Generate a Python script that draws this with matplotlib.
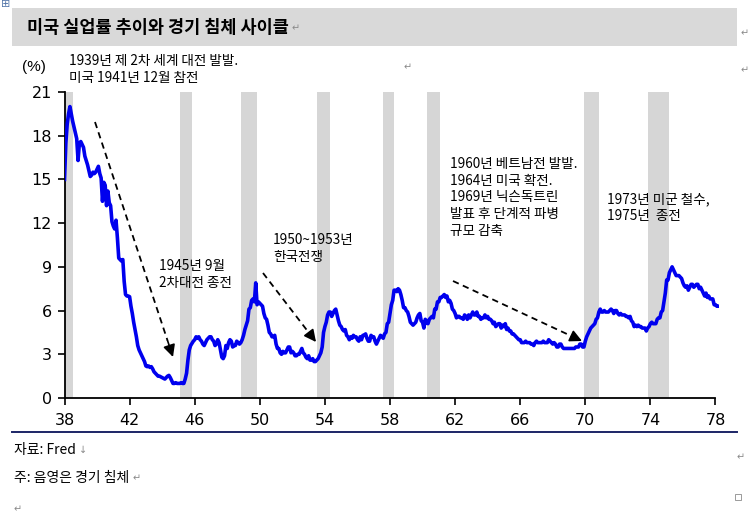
import matplotlib
matplotlib.use("Agg")
import matplotlib.pyplot as plt
from matplotlib.patches import Rectangle
from matplotlib.lines import Line2D
import numpy as np

plt.rcParams['font.family'] = ['Noto Sans CJK KR', 'DejaVu Sans']

# ---------------- data ----------------
start_year = 38          # Jan 1938, monthly data
u_1938_1947 = [
    15.0, 17.5, 18.8, 19.5, 20.0, 19.5, 19.0, 18.6, 18.2, 17.8, 16.3, 17.5,
    17.6, 17.4, 17.2, 16.6, 16.3, 16.0, 15.6, 15.2, 15.3, 15.5, 15.4, 15.5,
    15.7, 15.9, 15.4, 15.1, 13.5, 14.8, 14.6, 13.2, 14.2, 13.4, 13.2, 12.1,
    11.8, 11.6, 12.2, 11.0, 9.6, 9.5, 9.4, 9.5, 8.0, 7.1, 7.0, 7.0,
    6.95, 6.3, 5.8, 5.2, 4.7, 4.2, 3.6, 3.3, 3.1, 2.9, 2.7, 2.5,
    2.2, 2.15, 2.2, 2.1, 2.15, 2.0, 1.8, 1.7, 1.6, 1.5, 1.5, 1.45,
    1.4, 1.35, 1.3, 1.4, 1.5, 1.55, 1.4, 1.2, 1.0, 1.0, 1.05, 1.0,
    1.0, 1.0, 1.05, 1.0, 1.0, 1.3, 1.7, 2.6, 3.3, 3.6, 3.75, 3.9,
    4.0, 4.2, 4.1, 4.2, 4.0, 3.9, 3.7, 3.6, 3.8, 4.0, 4.1, 4.2,
    4.2, 4.0, 3.9, 3.6, 3.7, 4.0, 3.8, 3.3, 2.8, 2.7, 2.9, 3.6,
]
u_1948_1957 = [
    3.4, 3.8, 4.0, 3.9, 3.5, 3.6, 3.6, 3.9, 3.8, 3.7, 3.8, 4.0,
    4.3, 4.7, 5.0, 5.3, 6.1, 6.2, 6.7, 6.8, 6.6, 7.9, 6.4, 6.6,
    6.5, 6.4, 6.3, 5.8, 5.5, 5.4, 5.0, 4.5, 4.4, 4.2, 4.2, 4.3,
    3.7, 3.4, 3.4, 3.1, 3.0, 3.2, 3.1, 3.1, 3.3, 3.5, 3.5, 3.1,
    3.2, 3.1, 2.9, 2.9, 3.0, 3.0, 3.2, 3.4, 3.1, 3.0, 2.8, 2.7,
    2.9, 2.6, 2.6, 2.7, 2.5, 2.5, 2.6, 2.7, 2.9, 3.1, 3.5, 4.5,
    4.9, 5.2, 5.7, 5.9, 5.9, 5.6, 5.8, 6.0, 6.1, 5.7, 5.3, 5.0,
    4.9, 4.7, 4.6, 4.7, 4.3, 4.2, 4.0, 4.2, 4.1, 4.3, 4.2, 4.2,
    4.0, 3.9, 4.2, 4.0, 4.3, 4.3, 4.4, 4.1, 3.9, 3.9, 4.3, 4.2,
    4.2, 3.9, 3.7, 3.9, 4.1, 4.3, 4.2, 4.1, 4.4, 4.5, 5.1, 5.2,
]
u_1958_1967 = [
    5.8, 6.4, 6.7, 7.4, 7.4, 7.3, 7.5, 7.4, 7.1, 6.7, 6.2, 6.2,
    6.0, 5.9, 5.6, 5.2, 5.1, 5.0, 5.1, 5.2, 5.5, 5.7, 5.8, 5.3,
    5.2, 4.8, 5.4, 5.2, 5.1, 5.4, 5.5, 5.6, 5.5, 6.1, 6.1, 6.6,
    6.6, 6.9, 6.9, 7.0, 7.1, 6.9, 7.0, 6.6, 6.7, 6.5, 6.1, 6.0,
    5.8, 5.5, 5.6, 5.6, 5.5, 5.5, 5.4, 5.7, 5.6, 5.4, 5.7, 5.5,
    5.7, 5.9, 5.7, 5.7, 5.9, 5.6, 5.6, 5.4, 5.5, 5.5, 5.7, 5.5,
    5.6, 5.4, 5.4, 5.3, 5.1, 5.2, 4.9, 5.0, 5.1, 5.1, 4.8, 5.0,
    4.9, 5.1, 4.7, 4.8, 4.6, 4.6, 4.4, 4.4, 4.3, 4.2, 4.1, 4.0,
    4.0, 3.8, 3.8, 3.8, 3.9, 3.8, 3.8, 3.8, 3.7, 3.7, 3.6, 3.8,
    3.9, 3.8, 3.8, 3.8, 3.8, 3.9, 3.8, 3.8, 3.8, 4.0, 3.9, 3.8,
]
u_1968_1978 = [
    3.7, 3.8, 3.7, 3.5, 3.5, 3.7, 3.7, 3.5, 3.4, 3.4, 3.4, 3.4,
    3.4, 3.4, 3.4, 3.4, 3.4, 3.5, 3.5, 3.5, 3.7, 3.7, 3.5, 3.5,
    3.9, 4.2, 4.4, 4.6, 4.8, 4.9, 5.0, 5.1, 5.4, 5.5, 5.9, 6.1,
    5.9, 5.9, 6.0, 5.9, 5.9, 5.9, 6.0, 6.1, 6.0, 5.8, 6.0, 6.0,
    5.8, 5.7, 5.8, 5.7, 5.7, 5.7, 5.6, 5.6, 5.5, 5.6, 5.3, 5.2,
    4.9, 5.0, 4.9, 5.0, 4.9, 4.9, 4.8, 4.8, 4.8, 4.6, 4.8, 4.9,
    5.1, 5.2, 5.1, 5.1, 5.1, 5.4, 5.5, 5.5, 5.9, 6.0, 6.6, 7.2,
    8.1, 8.1, 8.6, 8.8, 9.0, 8.8, 8.6, 8.4, 8.4, 8.4, 8.3, 8.2,
    7.9, 7.7, 7.6, 7.7, 7.4, 7.6, 7.8, 7.8, 7.6, 7.7, 7.8, 7.8,
    7.5, 7.6, 7.4, 7.2, 7.0, 7.2, 6.9, 7.0, 6.8, 6.8, 6.8, 6.4,
    6.4, 6.3, 6.3,
]

# NBER recessions (two-digit year, fractional)
rec_start = [37.33, 45.08, 48.83, 53.50, 57.58, 60.25, 69.92, 73.83]
rec_end   = [38.50, 45.83, 49.83, 54.33, 58.25, 61.08, 70.83, 75.17]

x_ticks = [38, 42, 46, 50, 54, 58, 62, 66, 70, 74, 78]
x_tick_labels = [str(t) for t in x_ticks]
y_ticks = [0, 3, 6, 9, 12, 15, 18, 21]

title = "미국 실업률 추이와 경기 침체 사이클"
source = "자료: Fred"
note = "주: 음영은 경기 침체"
unit = "(%)"

ann_ww2_start = "1939년 제 2차 세계 대전 발발.\n미국 1941년 12월 참전"
ann_ww2_end = "1945년 9월\n2차대전 종전"
ann_korea = "1950~1953년\n한국전쟁"
ann_vietnam = "1960년 베트남전 발발.\n1964년 미국 확전.\n1969년 닉슨독트린\n발표 후 단계적 파병\n규모 감축"
ann_vietnam_end = "1973년 미군 철수,\n1975년  종전"

# ---------------- figure ----------------
W, H = 755, 517
fig = plt.figure(figsize=(W / 100, H / 100), dpi=100)
fig.patch.set_facecolor("white")

def fx(px):
    return px / W

def fy(py):
    return 1 - py / H

# title bar
fig.patches.append(Rectangle((fx(12), fy(46)), fx(737) - fx(12), fy(8) - fy(46),
                             transform=fig.transFigure, facecolor="#d9d9d9",
                             edgecolor="none", zorder=-5))
title_txt = fig.text(fx(27), fy(28), title, fontsize=12.6, fontweight="black",
                     ha="left", va="center", color="black")

# axes
x0, x1 = 38.0, 78.2
ax_left = 64.5
px_per_year = 16.275
ax_width = (x1 - x0) * px_per_year
ax = fig.add_axes([fx(ax_left), fy(398), ax_width / W, (398 - 92) / H])
ax.patch.set_alpha(0)

values = u_1938_1947 + u_1948_1957 + u_1958_1967 + u_1968_1978
xs = start_year + np.arange(len(values)) / 12.0

for s, e in zip(rec_start, rec_end):
    ax.axvspan(max(s, x0), e, color="#d6d6d6", lw=0, zorder=1)

ax.plot(xs, values, color="#0000ee", lw=2.6, zorder=3, solid_joinstyle="round")

ax.set_xlim(x0, x1)
ax.set_ylim(0, 21)
ax.set_xticks(x_ticks)
ax.set_xticklabels(x_tick_labels)
ax.set_yticks(y_ticks)
ax.spines["top"].set_visible(False)
ax.spines["right"].set_visible(False)
ax.spines["bottom"].set_bounds(38, 78)
for sp in ("left", "bottom"):
    ax.spines[sp].set_linewidth(1.3)
    ax.spines[sp].set_color("black")
ax.tick_params(axis="both", direction="out", length=5, width=1.2,
               labelsize=11.5, pad=4)
for lab in ax.get_xticklabels() + ax.get_yticklabels():
    lab.set_family(["Liberation Sans Narrow", "DejaVu Sans"])
ax.tick_params(axis="x", pad=6)

# unit
fig.text(fx(22), fy(67), unit, fontsize=11, family=["Liberation Sans", "DejaVu Sans"],
         ha="left", va="center")

# annotations
def t(x, y, s, **kw):
    ax.text(x, y, s, fontsize=9.8, ha="left", va="top", linespacing=1.25,
            clip_on=False, zorder=5, **kw)

# positions in pixels -> data
def dx(px):
    return x0 + (px - ax_left) / px_per_year

def dy(py):
    return (398 - py) / (306 / 21)

t(dx(69), dy(54), ann_ww2_start)
t(dx(159), dy(259), ann_ww2_end)
t(dx(273), dy(233), ann_korea)
t(dx(450), dy(157), ann_vietnam)
t(dx(607), dy(192), ann_vietnam_end)

# dashed arrows
arrows = [((95, 122), (173, 357)), ((263, 273), (316, 342)), ((453, 281), (582, 341))]
for (sx, sy), (ex, ey) in arrows:
    a = (dx(sx), dy(sy))
    b = (dx(ex), dy(ey))
    frac = 0.93
    mid = (a[0] + (b[0] - a[0]) * frac, a[1] + (b[1] - a[1]) * frac)
    ax.plot([a[0], mid[0]], [a[1], mid[1]], color="black", lw=1.3,
            ls=(0, (3.5, 2.5)), zorder=4)
    ax.annotate("", xy=b, xytext=mid,
                arrowprops=dict(arrowstyle="-|>", color="black", lw=1.2,
                                mutation_scale=18, shrinkA=0, shrinkB=0),
                zorder=4)

# separator line
fig.add_artist(Line2D([fx(12), fx(737)], [fy(432), fy(432)],
                      transform=fig.transFigure, color="#1c2566", lw=1.4))

src_txt = fig.text(fx(14), fy(450), source, fontsize=10, ha="left", va="center")
note_txt = fig.text(fx(14), fy(478), note, fontsize=10, ha="left", va="center")

# document formatting marks
mark_color = "#8a8a8a"
mark_kw = dict(fontsize=7, color=mark_color, family="DejaVu Sans")
for artist, sym in ((title_txt, "↵"), (src_txt, "↓"), (note_txt, "↵")):
    ax.annotate(sym, xy=(1, 0.5), xycoords=artist, xytext=(2, 0),
                textcoords="offset points", ha="left", va="center",
                annotation_clip=False, **mark_kw)
marks = [(741, 33, "↵"), (404, 67, "↵"), (741, 70, "↵"),
         (737, 457, "↵"), (14, 509, "↵")]
for mx, my, m in marks:
    fig.text(fx(mx), fy(my), m, ha="left", va="center", **mark_kw)
fig.patches.append(Rectangle((fx(735), fy(500)), 6 / W, 6 / H, transform=fig.transFigure,
                             facecolor="none", edgecolor=mark_color, lw=0.6))
fig.text(fx(1), fy(4), "⊞", fontsize=8, color="#5577aa", ha="left", va="center",
         family="DejaVu Sans")

fig.savefig("out.png", dpi=100)
